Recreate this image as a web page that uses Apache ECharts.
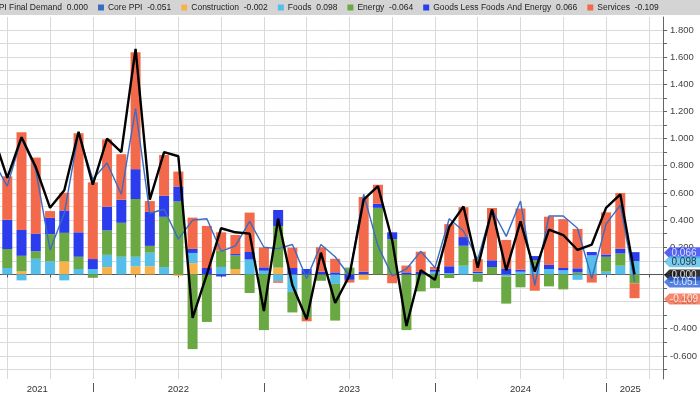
<!DOCTYPE html>
<html><head><meta charset="utf-8">
<script src="https://cdn.jsdelivr.net/npm/echarts@6/dist/echarts.min.js"></script>
<style>html,body{margin:0;padding:0;background:#fff}#c{width:700px;height:394px}</style>
</head><body><div id="c"></div>
<script>
// Monthly data, May 2021 .. Feb 2025
const months = ['2021-05','2021-06','2021-07','2021-08','2021-09','2021-10','2021-11','2021-12',
 '2022-01','2022-02','2022-03','2022-04','2022-05','2022-06','2022-07','2022-08','2022-09','2022-10','2022-11','2022-12',
 '2023-01','2023-02','2023-03','2023-04','2023-05','2023-06','2023-07','2023-08','2023-09','2023-10','2023-11','2023-12',
 '2024-01','2024-02','2024-03','2024-04','2024-05','2024-06','2024-07','2024-08','2024-09','2024-10','2024-11','2024-12',
 '2025-01','2025-02'];
const ppiFinalDemand = [1.03,0.71,1.01,0.79,0.49,0.62,1.05,0.66,
 1.00,0.90,1.66,0.55,0.90,0.87,-0.32,0.00,0.34,0.31,0.30,-0.27,
 0.41,-0.08,-0.33,0.16,-0.21,-0.01,0.55,0.65,0.25,-0.38,0.03,-0.04,
 0.35,0.50,0.05,0.48,0.03,0.39,0.02,0.33,0.29,0.18,0.22,0.49,
 0.59,0.000];
const corePPI = [0.84,0.65,1.00,0.77,0.18,0.45,1.04,0.70,
 0.82,0.59,1.22,0.45,0.48,0.26,0.40,0.41,0.17,0.21,0.39,0.20,
 0.19,0.22,-0.03,0.22,0.13,-0.01,0.59,0.21,-0.01,0.04,0.17,0.05,
 0.41,0.32,0.11,0.48,0.28,0.54,-0.08,0.43,0.43,0.34,-0.03,0.37,
 0.51,-0.051];
const construction = [null,0,0.022,0,0,0.096,0,0,
 0.054,0,0.06,0.06,0,-0.01,0.083,0,0,0.04,0,0,
 0.05,0,0,0,0,0,-0.04,0,0,0,0,0,
 0,0,0,0,0,0,0,0,0,0,0,0,
 0,-0.002];
const foods = [null,0.047,-0.044,0.115,0.096,-0.044,0.04,0.04,
 0.09,0.13,0.07,0.10,0.054,0,0.075,0,0.055,0,0.11,0.027,
 -0.05,-0.13,0,0,-0.07,0,0,0,0,0,0,0.02,
 0.01,0.064,0.01,0,-0.015,0.02,0.07,0.04,0.03,-0.04,0.14,0.02,
 0.064,0.098];
const energy = [null,0.14,0.115,0.055,0.20,0.21,0.09,-0.025,
 0.18,0.25,0.425,0.05,0.37,0.537,-0.55,-0.35,0.12,0.10,-0.137,-0.41,
 0.306,-0.15,-0.32,-0.047,-0.27,0.05,0,0.49,0.26,-0.41,-0.125,-0.10,
 -0.027,0.147,-0.054,0.054,-0.2,-0.095,0.035,-0.088,-0.11,0.015,0,0.11,
 0.09,-0.064];
const goodsLessFoodsEnergy = [null,0.215,0.19,0.13,0.12,0.165,0.18,0.073,
 0.175,0.17,0.22,0.25,0.155,0.11,0.03,0.047,-0.015,0.01,0.055,0.025,
 0.118,0.047,0.04,0.02,0.015,-0.04,0.02,0.03,0.05,0.015,0.02,0.015,
 0.05,0.064,0.01,0.05,0.044,0.015,0.03,0.03,0.017,0.03,0.025,0.017,
 0.035,0.066];
const services = [null,0.32,0.72,0.56,0.05,0.13,0.73,0.565,
 0.495,0.335,0.86,0.08,0.30,0.11,0.23,0.31,0.135,0.14,0.29,0.147,
 -0.012,0.15,-0.025,0.18,0.10,-0.02,0.55,0.14,-0.065,0.05,0.147,0.02,
 0.31,0.22,0.093,0.385,0.21,0.45,-0.12,0.355,0.36,0.29,-0.06,0.31,
 0.41,-0.109];
const yearLabels = ['2021','2022','2023','2024','2025'];

const FONT = "'Liberation Sans',Arial,sans-serif";
// month index: Jan 2021 = 1 ... (bars sit at month end)
const tOf = m => (parseInt(m.slice(0,4)) - 2021) * 12 + parseInt(m.slice(5,7));
const T = months.map(tOf);
const pairs = arr => arr.map((v,i) => [T[i], v]);
const valueFirst = arr => arr.map((v,i) => [v, T[i]]);
const X_MIN = 5.49, X_MAX = 52.0, Y_MIN = -0.77, Y_MAX = 1.895;
const quarterTicks = []; for (let t = 3; t <= X_MAX; t += 3) if (t >= X_MIN) quarterTicks.push(t);
const yearBounds = [12,24,36,48];
const yearLabelPos = [8.1,18,30,42,49.7];
const yTicks = []; for (let i = -7; i <= 18; i++) yTicks.push(i/10);
const yLabels = []; for (let i = -3; i <= 9; i++) yLabels.push(i/5);

const last = a => a[a.length-1];
const C = {ppi:'#000000', core:'#3a6cc4', cons:'#f7b24c', foods:'#56bfe9', energy:'#6aa843', goods:'#2a3cec', serv:'#f2694b'};
const names = ['PPI Final Demand','Core PPI','Construction','Foods','Energy','Goods Less Foods And Energy','Services'];
const lastVals = {
  'PPI Final Demand': last(ppiFinalDemand), 'Core PPI': last(corePPI), 'Construction': last(construction),
  'Foods': last(foods), 'Energy': last(energy), 'Goods Less Foods And Energy': last(goodsLessFoodsEnergy), 'Services': last(services)
};
const stackEnd = (series) => { let p = 0, n = 0, r = 0; for (const a of series) { const v = last(a); if (v >= 0) { p += v; r = p; } else { n += v; r = n; } } return r; };
const tagData = [
  {value:[0.5, last(ppiFinalDemand)], txt:last(ppiFinalDemand).toFixed(3), bg:'#000', fg:'#fff'},
  {value:[0.5, stackEnd([construction,foods,energy,goodsLessFoodsEnergy])], txt:last(goodsLessFoodsEnergy).toFixed(3), bg:C.goods, fg:'#fff'},
  {value:[0.5, stackEnd([construction,foods])], txt:last(foods).toFixed(3), bg:C.foods, fg:'#111'},
  {value:[0.5, last(corePPI)], txt:last(corePPI).toFixed(3), bg:'#2a62d8', fg:'#fff'},
  {value:[0.5, stackEnd([construction,foods,energy,goodsLessFoodsEnergy,services])], txt:last(services).toFixed(3), bg:C.serv, fg:'#fff'}
].map(d => ({value:d.value, itemStyle:{color:d.bg}, label:{color:d.fg, formatter:d.txt}}));

// value stored first so that the library stacks the value (y) dimension
const bar = (name, arr, color) => ({name, type:'bar', stack:'comp', xAxisIndex:0, yAxisIndex:0, barWidth:10,
  itemStyle:{color}, encode:{x:1, y:0}, data:valueFirst(arr)});

const chart = echarts.init(document.getElementById('c'));
chart.setOption({
  animation:false,
  textStyle:{fontFamily:FONT},
  graphic:[{type:'rect', left:0, top:0, shape:{width:700, height:15}, style:{fill:'#d4d4d4'}, z:-10}],
  legend:{data:names, left:-17, top:1, itemWidth:6, itemHeight:6, itemGap:10, icon:'rect', padding:[2,0],
    formatter: n => n + '  ' + lastVals[n].toFixed(3),
    textStyle:{fontFamily:FONT, fontSize:8.5, color:'#222', padding:[0,0,0,-1]}},
  grid:[{left:0, right:36, top:17, bottom:14}, {left:664, right:0, top:17, bottom:14}],
  xAxis:[
    {type:'value', gridIndex:0, min:X_MIN, max:X_MAX, position:'bottom',
     axisLine:{lineStyle:{color:'#555'}},
     axisTick:{customValues:quarterTicks, length:3, lineStyle:{color:'#555'}},
     axisLabel:{customValues:yearLabelPos, formatter:v => { let k=0,b=1e9; yearLabelPos.forEach((p,i)=>{ if(Math.abs(p-v)<b){b=Math.abs(p-v);k=i;} }); return yearLabels[k]; }, color:'#333', fontSize:9.5, margin:5, fontFamily:FONT},
     splitLine:{show:true, lineStyle:{color:'#d9d9d9', width:1}}},
    {type:'value', gridIndex:0, min:X_MIN, max:X_MAX, position:'bottom', offset:4,
     axisLine:{show:false}, axisTick:{customValues:yearBounds, length:9, lineStyle:{color:'#555'}},
     axisLabel:{show:false}, splitLine:{show:false}},
    {type:'value', gridIndex:1, min:0, max:1, show:false}
  ],
  yAxis:[
    {type:'value', gridIndex:0, position:'right', min:Y_MIN, max:Y_MAX,
     axisLine:{show:true, lineStyle:{color:'#666'}},
     axisTick:{show:true, customValues:yTicks, length:4, lineStyle:{color:'#666'}},
     axisLabel:{customValues:yLabels, formatter:v => v.toFixed(3), margin:7, fontSize:9.5, color:'#444', fontFamily:FONT},
     splitLine:{show:true, lineStyle:{color:'#dadada'}}},
    {type:'value', gridIndex:1, min:Y_MIN, max:Y_MAX, show:false}
  ],
  series:[
    bar('Construction', construction, C.cons),
    bar('Foods', foods, C.foods),
    bar('Energy', energy, C.energy),
    bar('Goods Less Foods And Energy', goodsLessFoodsEnergy, C.goods),
    bar('Services', services, C.serv),
    {name:'Core PPI', type:'line', xAxisIndex:0, yAxisIndex:0, showSymbol:false, symbol:'none', data:pairs(corePPI),
     itemStyle:{color:C.core}, lineStyle:{color:C.core, width:1.4}, clip:true},
    {name:'PPI Final Demand', type:'line', xAxisIndex:0, yAxisIndex:0, showSymbol:false, symbol:'none', data:pairs(ppiFinalDemand),
     itemStyle:{color:C.ppi}, lineStyle:{color:C.ppi, width:2.4}, clip:true},
    {name:'tags', type:'scatter', xAxisIndex:2, yAxisIndex:1, symbol:'path://M0,6 L6,0 L40,0 L40,12 L6,12 Z',
     symbolSize:[36,11], symbolKeepAspect:false, clip:false, silent:true,
     label:{show:true, position:'inside', offset:[2,0], fontSize:10, fontFamily:FONT},
     data:tagData}
  ]
});
</script></body></html>
